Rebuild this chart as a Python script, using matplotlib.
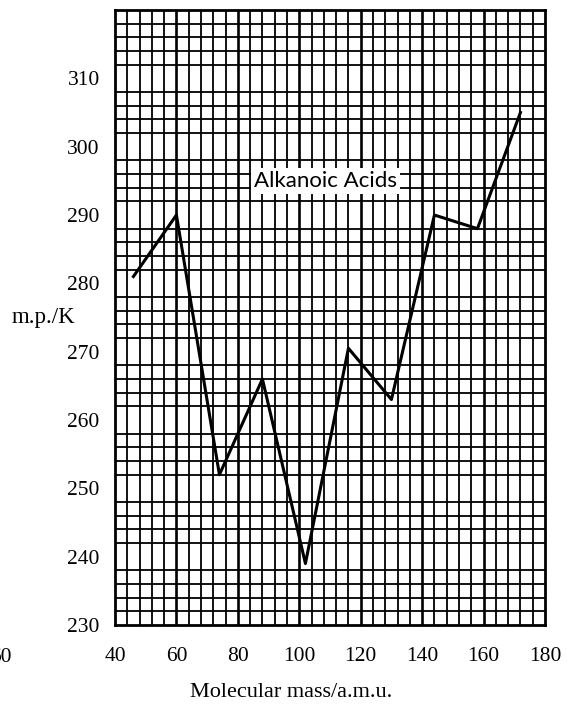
import numpy as np
import matplotlib
matplotlib.use('Agg')
import matplotlib.pyplot as plt
from matplotlib.ticker import MultipleLocator

# melting points of the straight-chain alkanoic acids (C1..C10)
molar_mass = [46, 60, 74, 88, 102, 116, 130, 144, 158, 172]
melting_point = [281, 290, 252, 266, 239, 270.5, 263, 290, 288, 305]

x_ticks = [40, 60, 80, 100, 120, 140, 160, 180]
y_ticks = [230, 240, 250, 260, 270, 280, 290, 300, 310]

plt.rcParams['font.family'] = ['Liberation Serif', 'DejaVu Serif']

fig = plt.figure(figsize=(5.67, 7.06), dpi=100)
ax = fig.add_axes([0.2028, 0.1147, 0.7584, 0.8711])

ax.set_xlim(40, 180)
ax.set_ylim(230, 320)

# graph paper grid
ax.xaxis.set_minor_locator(MultipleLocator(4))
ax.yaxis.set_minor_locator(MultipleLocator(2))
ax.grid(which='minor', color='black', lw=1.3)
for xv in range(60, 180, 20):
    ax.axvline(xv, color='black', lw=1.9, zorder=1)

ax.set_xticks(x_ticks)
ax.set_yticks(y_ticks)
ax.tick_params(which='both', length=0, labelsize=15.5)
ax.tick_params(axis='x', pad=16)
ax.tick_params(axis='y', pad=11)
for s in ax.spines.values():
    s.set_linewidth(2)

# the data
ax.plot(molar_mass, melting_point, color='black', lw=2.2, zorder=3)

ax.text(108.5, 295, 'Alkanoic Acids', family=['Lato', 'DejaVu Sans'], fontsize=16,
        ha='center', va='center', zorder=4,
        bbox=dict(facecolor='white', edgecolor='none', pad=2))

# axis labels
ax.set_ylabel('m.p./K', rotation=0, ha='right', va='center', fontsize=16.5)
ax.yaxis.set_label_coords(-0.093, 0.5)
ax.set_xlabel('Molecular mass/a.m.u.', fontsize=16, va='center')
ax.xaxis.set_label_coords(0.41, -0.11)

# leftover label from the neighbouring chart
fig.text(12 / 567, 1 - 657 / 706, '60', ha='right', va='center', fontsize=15.5)

fig.savefig('out.png', dpi=100)
